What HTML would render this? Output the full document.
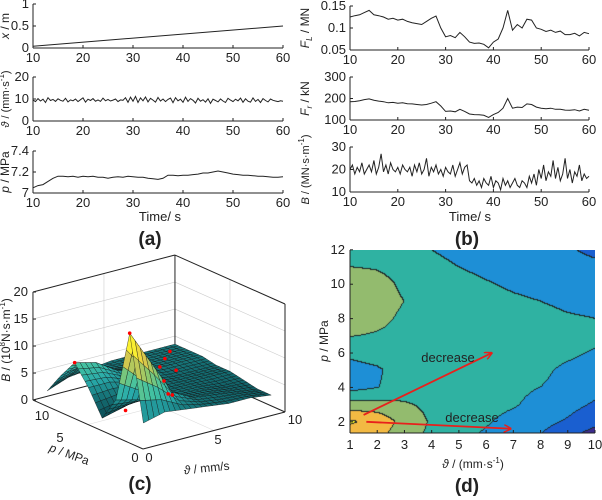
<!DOCTYPE html>
<html><head><meta charset="utf-8">
<style>
html,body{margin:0;padding:0;background:#fff;}
#wrap{position:relative;width:602px;height:500px;overflow:hidden;font-family:"Liberation Sans",Arial,sans-serif;}
#cv{position:absolute;left:350px;top:250px;}
svg{position:absolute;left:0;top:0;}
text{font-family:"Liberation Sans",Arial,sans-serif;fill:#222;}
</style></head>
<body>
<div id="wrap">
<canvas id="cv" width="245" height="183"></canvas>
<svg id="s" width="602" height="500"></svg>
</div>
<script>
// ---------- DATA ----------
const timeTicks = [10,20,30,40,50,60];
const xPos = [0.04,0.5];
const theta = [9.5,8.8,10.2,9.1,9.9,8.4,10.6,9.3,9.8,8.9,10.1,9.4,9.0,10.3,8.7,9.6,9.2,10.0,8.8,9.7,10.5,8.6,9.9,9.3,10.2,9.0,9.6,8.9,10.4,9.2,9.8,9.1,9.5,10.0,8.8,9.6,9.4,10.6,8.5,10.8,9.0,11.2,8.4,10.5,9.2,10.9,8.7,10.3,9.5,8.6,10.7,9.1,10.0,8.8,9.8,10.4,8.3,10.6,9.2,9.9,8.5,10.8,8.9,10.2,9.4,8.2,10.3,9.0,9.7,8.6,10.1,8.0,9.9,9.3,8.7,10.0,9.1,8.4,10.3,9.5,8.8,9.9,9.2,10.4,8.5,10.1,9.0,8.6,10.5,8.9,9.8,8.4,10.2,9.3,8.7,10.0,9.4,9.1,8.8,9.2,9.0];
const pres = [7.05,7.07,7.08,7.11,7.14,7.16,7.16,7.155,7.16,7.15,7.16,7.155,7.16,7.15,7.15,7.14,7.15,7.155,7.15,7.16,7.155,7.15,7.15,7.14,7.135,7.13,7.14,7.17,7.17,7.165,7.17,7.17,7.175,7.18,7.19,7.19,7.2,7.21,7.2,7.19,7.18,7.175,7.17,7.17,7.165,7.16,7.16,7.155,7.15,7.15,7.155];
const FL = [0.125,0.128,0.13,0.135,0.14,0.13,0.128,0.125,0.12,0.122,0.118,0.12,0.115,0.112,0.11,0.108,0.115,0.122,0.127,0.1,0.08,0.083,0.078,0.09,0.08,0.068,0.065,0.066,0.063,0.055,0.068,0.075,0.1,0.14,0.095,0.108,0.1,0.12,0.118,0.1,0.097,0.092,0.095,0.09,0.093,0.085,0.085,0.088,0.082,0.09,0.087];
const Fr = [185,186,190,195,198,192,188,185,180,182,178,180,176,175,172,170,172,178,185,165,140,142,138,150,140,128,125,124,122,112,125,135,155,200,155,160,158,175,172,160,155,152,155,150,150,146,145,148,142,150,145];
const Bser = [20,22,18,21,19,23,18,20,22,19,24,18,21,27,19,22,18,23,20,19,21,18,22,20,19,21,17,22,19,23,18,20,25,17,21,19,22,18,20,17,21,19,18,22,17,20,23,18,21,22,15,14,16,13,15,12,16,14,13,17,12,15,14,11,16,13,15,12,14,16,13,12,15,14,12,17,14,18,13,20,16,22,15,19,17,24,16,21,15,18,25,16,20,14,19,17,22,15,18,16,17];
// 3D surface
const surfV = [1,2.5,4,5.5,7,8.5,10];
const surfP = [12,10.5,9,7.5,6,4.5,3,1.5];
const surfZ = [
 [1,2.5,3,3.5,3.5,3.5,3.5],
 [5,5.5,4,3.5,3.5,3.5,3.5],
 [8.5,7.5,5,4,3.5,3.5,3.5],
 [5,5,4,3.5,3,3,3],
 [0.5,1.5,2.5,3,3,3,3],
 [5,4,3,3,3,2.5,2.5],
 [18.5,12,5.5,3.5,3,2.5,2],
 [3,4,3.5,3,2.5,2.5,2]];
const redPts = [[1,3,18.5],[1,9,8.5],[2,5,2],[4,3,5],[7,9,3.6],[8,10,3.7],[9,11,3.6],[6,7,3.2],[7.5,8,3.4],[5,5,3]];
// contour field
const ctV = [1,2,3,4,5,6,7,8,9,10];
const ctP = [12,11,10,9,8,7,6,5,4,3,2,1];
const ctZ = [
 [2.6,2.6,2.5,2.0,1.6,1.5,1.4,1.3,1.1,0.8],
 [3.0,2.9,2.6,2.4,2.0,1.7,1.5,1.4,1.3,1.2],
 [3.6,3.4,2.8,2.6,2.4,2.1,1.8,1.6,1.5,1.4],
 [3.8,3.5,3.0,2.7,2.6,2.5,2.2,2.0,1.8,1.7],
 [3.6,3.3,2.8,2.7,2.6,2.6,2.5,2.3,2.1,2.0],
 [3.05,2.9,2.7,2.7,2.6,2.6,2.6,2.5,2.4,2.3],
 [2.25,2.5,2.7,2.7,2.6,2.6,2.5,2.4,2.2,1.9],
 [1.6,1.85,2.5,2.6,2.6,2.5,2.4,2.2,1.8,1.6],
 [1.6,1.95,2.5,2.6,2.6,2.4,2.2,2.0,1.7,1.3],
 [3.4,3.3,3.1,2.8,2.6,2.3,2.1,1.7,1.3,0.9],
 [5.1,4.8,3.6,2.9,2.5,2.1,1.7,1.3,0.9,0.4],
 [4.5,4.2,3.3,2.8,2.2,1.8,1.4,0.9,0.2,-0.8]];
const ctLevels = [0,1,2,3,4,5];
const ctColors = ['#3b2c8c','#1a5fd0','#1e8fd6','#2fb2a2','#93bb6e','#f2b943','#f5f21e'];
const ctXTicks = [1,2,3,4,5,6,7,8,9,10];
const ctYTicks = [2,4,6,8,10,12];
const arrows = [[1.5,2.4,6.2,6.0],[1.6,2.0,6.9,1.6]];

// ---------- HELPERS ----------
const NS='http://www.w3.org/2000/svg';
const S=document.getElementById('s');
function el(tag,at,parent){const e=document.createElementNS(NS,tag);for(const k in at)e.setAttribute(k,at[k]);(parent||S).appendChild(e);return e;}
function txt(x,y,s,at,name){const e=el('text',Object.assign({x:x,y:y,'font-size':12},at||{}));e.innerHTML=s;

return e;}

function linePlot(name,vals,x0,x1,yT,yB,ymin,ymax,yticks,ylab,ylabX,ylabFont){
 const g=el('g',{});
 
 
 const sx=t=>x0+(t-10)/50*(x1-x0), sy=v=>yB-(v-ymin)/(ymax-ymin)*(yB-yT);
 el('line',{x1:x0,y1:yT,x2:x0,y2:yB,stroke:'#222','stroke-width':1},g);
 el('line',{x1:x0,y1:yB,x2:x1,y2:yB,stroke:'#222','stroke-width':1},g);
 timeTicks.forEach(t=>{el('line',{x1:sx(t),y1:yB,x2:sx(t),y2:yB-3,stroke:'#222'},g);
  txt(sx(t),yB+14,t,{'text-anchor':'middle','font-size':13},'x-tick-label');});
 yticks.forEach(v=>{el('line',{x1:x0,y1:sy(v),x2:x0+3,y2:sy(v),stroke:'#222'},g);
  txt(x0-4,sy(v)+4,v,{'text-anchor':'end','font-size':13},'y-tick-label');});
 const n=vals.length;let d='';
 vals.forEach((v,i)=>{const t=10+i*50/(n-1);d+=(i?'L':'M')+sx(t).toFixed(1)+','+sy(v).toFixed(1);});
 const p=el('path',{d:d,fill:'none',stroke:'#222','stroke-width':1},g);
 
 
 const cy=(yT+yB)/2;
 txt(ylabX,cy,ylab,{'text-anchor':'middle','font-size':ylabFont||12,transform:'rotate(-90 '+ylabX+' '+cy+')'},'y-axis-title');
}

// ---------- PANEL A ----------
linePlot('x-plot',xPos,33,283,4,48,0,1,[0,0.5,1],'<tspan font-style="italic">x</tspan> / m',9);
linePlot('theta-plot',theta,33,283,77,121,0,20,[0,10,20],'<tspan font-style="italic">ϑ</tspan> / (mm·s<tspan dy="-5" font-size="8">-1</tspan><tspan dy="5">)</tspan>',9,11);
linePlot('pressure-plot',pres,33,283,151,193,7,7.4,[7,7.2,7.4],'<tspan font-style="italic">p</tspan> / MPa',9);
txt(160,221,'Time/ s',{'text-anchor':'middle','font-size':13},'x-axis-title');
txt(150,245,'(a)',{'text-anchor':'middle','font-size':19,'font-weight':'bold'},'panel-label-a');

// ---------- PANEL B ----------
linePlot('fl-plot',FL,350,589,6,50,0.05,0.15,[0.05,0.1,0.15],'<tspan font-style="italic">F</tspan><tspan font-style="italic" font-size="8" dy="3">L</tspan><tspan dy="-3"> / MN</tspan>',309);
linePlot('fr-plot',Fr,350,589,77,120,100,300,[100,200,300],'<tspan font-style="italic">F</tspan><tspan font-style="italic" font-size="8" dy="3">r</tspan><tspan dy="-3"> / kN</tspan>',309);
linePlot('b-plot',Bser,350,589,147,192,10,30,[10,20,30],'<tspan font-style="italic">B</tspan> / (MN·s·m<tspan dy="-5" font-size="8">-1</tspan><tspan dy="5">)</tspan>',309,11);
txt(470,221,'Time/ s',{'text-anchor':'middle','font-size':13},'x-axis-title');
txt(467,245,'(b)',{'text-anchor':'middle','font-size':19,'font-weight':'bold'},'panel-label-b');

// ---------- PANEL C (3D) ----------
(function(){
 const P=(v,p,z)=>[143+14.2*v-9.17*p, 449-3.7*v-4.08*p-5.4*z];
 const g=el('g',{});
 
 
 const L=(a,b,c)=>el('line',{x1:a[0],y1:a[1],x2:b[0],y2:b[1],stroke:c||'#222','stroke-width':c?0.6:1},g);
 [5,10,15].forEach(z=>{L(P(0,12,z),P(10,12,z),'#ccc');L(P(10,12,z),P(10,0,z),'#ccc');});
 L(P(5,12,0),P(5,12,20),'#ccc');L(P(10,6,0),P(10,6,20),'#ccc');
 L(P(0,6,0),P(10,6,0),'#ddd');L(P(5,0,0),P(5,12,0),'#ddd');
 L(P(0,12,0),P(10,12,0));L(P(10,12,0),P(10,0,0));
 L(P(10,12,0),P(10,12,20));
 L(P(0,12,20),P(10,12,20));L(P(10,12,20),P(10,0,20));
 L(P(0,12,0),P(0,12,20));L(P(10,0,0),P(10,0,20));
 L(P(0,12,0),P(0,0,0));L(P(0,0,0),P(10,0,0));
 [0,5,10,15,20].forEach(z=>{const q=P(0,12,z);L(q,[q[0]+3,q[1]]);txt(q[0]-5,q[1]+4,z,{'text-anchor':'end','font-size':13},'z-tick-label');});
 txt(42,420,'10',{'text-anchor':'middle','font-size':13},'p-tick-label');
 txt(60,442,'5',{'text-anchor':'middle','font-size':13},'p-tick-label');
 txt(135,462,'0',{'text-anchor':'middle','font-size':13},'p-tick-label');
 txt(149,462,'0',{'text-anchor':'middle','font-size':13},'v-tick-label');
 txt(218,444,'5',{'text-anchor':'middle','font-size':13},'v-tick-label');
 txt(295,424,'10',{'text-anchor':'middle','font-size':13},'v-tick-label');
 txt(10,340,'<tspan font-style="italic">B</tspan> / (10<tspan dy="-5" font-size="8">8</tspan><tspan dy="5">N·s·m</tspan><tspan dy="-5" font-size="8">-1</tspan><tspan dy="5">)</tspan>',{'text-anchor':'middle','font-size':12,transform:'rotate(-90 10 340)'},'z-axis-title');
 txt(68,458,'<tspan font-style="italic">p</tspan> / MPa',{'text-anchor':'middle','font-size':12,transform:'rotate(20 68 458)'},'p-axis-title');
 txt(207,472,'<tspan font-style="italic">ϑ</tspan> / mm/s',{'text-anchor':'middle','font-size':12,transform:'rotate(-6 207 472)'},'v-axis-title');
 const stops=[[0,[10,70,80]],[0.2,[20,110,115]],[0.35,[40,170,170]],[0.5,[70,195,160]],[0.65,[140,200,110]],[0.85,[230,200,70]],[1,[250,240,50]]];
 function cmap(t){t=Math.max(0,Math.min(1,t));for(let i=1;i<stops.length;i++){if(t<=stops[i][0]){const a=stops[i-1],b=stops[i],f=(t-a[0])/(b[0]-a[0]);return 'rgb('+a[1].map((c,k)=>Math.round(c+(b[1][k]-c)*f)).join(',')+')';}}return 'rgb(250,240,50)';}
 const N=4,quads=[];
 function Zat(r,c){return surfZ[r][c];}
 for(let r=0;r<surfP.length-1;r++)for(let c=0;c<surfV.length-1;c++){
  for(let i=0;i<N;i++)for(let j=0;j<N;j++){
   const pts=[[i,j],[i,j+1],[i+1,j+1],[i+1,j]].map(([a,b])=>{const fa=a/N,fb=b/N;
    const z=(1-fa)*(1-fb)*Zat(r,c)+(1-fa)*fb*Zat(r,c+1)+fa*(1-fb)*Zat(r+1,c)+fa*fb*Zat(r+1,c+1);
    const p=surfP[r]+(surfP[r+1]-surfP[r])*fa, v=surfV[c]+(surfV[c+1]-surfV[c])*fb;return [v,p,z];});
   const zm=pts.reduce((s,q)=>s+q[2],0)/4, dep=pts.reduce((s,q)=>s+4.08*q[1]+3.7*q[0],0);
   quads.push({pts,zm,dep});
  }}
 quads.sort((a,b)=>b.dep-a.dep);
 quads.forEach(q=>{const d='M'+q.pts.map(t=>P(...t).map(x=>x.toFixed(1)).join(',')).join('L')+'Z';
  const e=el('path',{d:d,fill:cmap(q.zm/16),stroke:'#111','stroke-width':0.45,'stroke-opacity':0.8},g);
  
  });
 redPts.forEach(r=>{const q=P(...r);const c=el('circle',{cx:q[0],cy:q[1],r:1.8,fill:'#f00'},g);
  
  });
 txt(140,490,'(c)',{'text-anchor':'middle','font-size':19,'font-weight':'bold'},'panel-label-c');
})();

// ---------- PANEL D (contour) ----------
(function(){
 const X0=350,Y0=250,W=245,H=183;
 const sx=v=>X0+(v-1)/9*W, sy=p=>433-(p-1.35)*17.2;
 const cv=document.getElementById('cv'),ctx=cv.getContext('2d');
 const img=ctx.createImageData(W,H);
 function field(v,p){let c=(v-ctV[0]);let ci=Math.min(ctV.length-2,Math.max(0,Math.floor(c)));let fc=c-ci;
  let rp=(ctP[0]-p);let ri=Math.min(ctP.length-2,Math.max(0,Math.floor(rp)));let fr=rp-ri;
  return (1-fr)*(1-fc)*ctZ[ri][ci]+(1-fr)*fc*ctZ[ri][ci+1]+fr*(1-fc)*ctZ[ri+1][ci]+fr*fc*ctZ[ri+1][ci+1];}
 const lev=[];
 for(let y=0;y<H;y++){lev.push([]);for(let x=0;x<W;x++){const v=1+(x+0.5)/W*9,p=1.35+(433-(Y0+y+0.5))/17.2;
  const z=field(v,p);let k=0;while(k<ctLevels.length&&z>=ctLevels[k])k++;lev[y].push(k);}}
 const hex=h=>[parseInt(h.substr(1,2),16),parseInt(h.substr(3,2),16),parseInt(h.substr(5,2),16)];
 for(let y=0;y<H;y++)for(let x=0;x<W;x++){let k=lev[y][x];let c=hex(ctColors[k]);
  const edge=(x+1<W&&lev[y][x+1]!==k)||(y+1<H&&lev[y+1][x]!==k);
  if(edge)c=[30,40,40];const i=(y*W+x)*4;img.data[i]=c[0];img.data[i+1]=c[1];img.data[i+2]=c[2];img.data[i+3]=255;}
 ctx.putImageData(img,0,0);
 const g=el('g',{});
 
 
 el('line',{x1:X0,y1:Y0,x2:X0,y2:Y0+H,stroke:'#222'},g);
 el('line',{x1:X0,y1:Y0+H,x2:X0+W,y2:Y0+H,stroke:'#222'},g);
 ctXTicks.forEach(v=>{el('line',{x1:sx(v),y1:Y0+H,x2:sx(v),y2:Y0+H-3,stroke:'#222'},g);
  txt(sx(v),Y0+H+16,v,{'text-anchor':'middle','font-size':13},'x-tick-label');});
 ctYTicks.forEach(p=>{el('line',{x1:X0,y1:sy(p),x2:X0+3,y2:sy(p),stroke:'#222'},g);
  txt(X0-5,sy(p)+4,p,{'text-anchor':'end','font-size':13},'y-tick-label');});
 txt(328,341,'<tspan font-style="italic">p</tspan> / MPa',{'text-anchor':'middle','font-size':12,transform:'rotate(-90 328 341)'},'y-axis-title');
 txt(473,468,'<tspan font-style="italic">ϑ</tspan> / (mm·s<tspan dy="-5" font-size="8">-1</tspan><tspan dy="5">)</tspan>',{'text-anchor':'middle','font-size':12},'x-axis-title');
 const defs=el('defs',{});
 const m=el('marker',{id:'ah',markerWidth:8,markerHeight:8,refX:7,refY:4,orient:'auto',markerUnits:'userSpaceOnUse'},defs);
 el('path',{d:'M0,0L8,4L0,8',fill:'none',stroke:'#e8201c','stroke-width':1.5},m);
 arrows.forEach(a=>{const l=el('line',{x1:sx(a[0]),y1:sy(a[1]),x2:sx(a[2]),y2:sy(a[3]),stroke:'#e8201c','stroke-width':1.8,'marker-end':'url(#ah)'});
  
  });
 txt(448,362,'decrease',{'text-anchor':'middle','font-size':13},'annotation-decrease');
 txt(472,422,'decrease',{'text-anchor':'middle','font-size':13},'annotation-decrease');
 txt(467,492,'(d)',{'text-anchor':'middle','font-size':19,'font-weight':'bold'},'panel-label-d');
})();
</script>
</body></html>
